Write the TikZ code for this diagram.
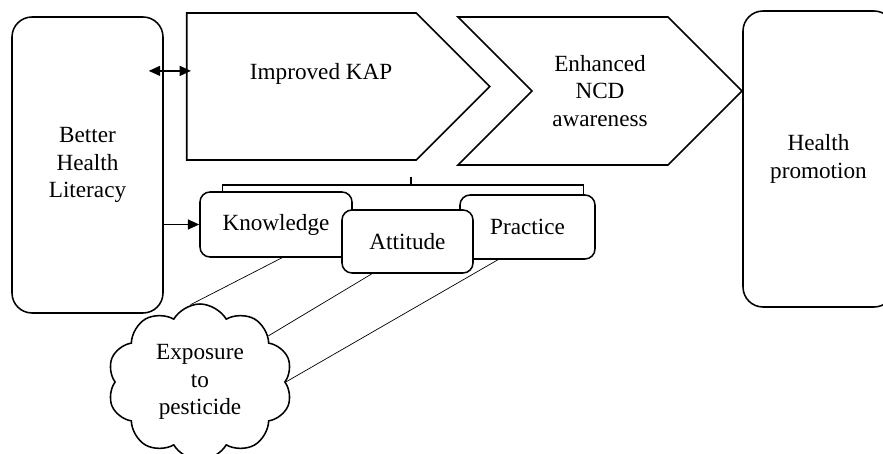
\documentclass[tikz,border=0pt]{standalone}
\usepackage{fontspec}
\setmainfont{Liberation Serif}
\usetikzlibrary{shapes.symbols,arrows.meta}

\begin{document}
\begin{tikzpicture}
    [box/.style={rectangle, draw, rounded corners=0.5cm, line width=1.1pt, minimum width=3.775cm, minimum height=7.4cm, align=center},
     kapbox/.style={rectangle, draw, rounded corners=0.25cm, line width=1.1pt, fill=white, minimum height=1.6cm},
     chevron/.style={signal, draw, line width=1.1pt, signal pointer angle=90, signal to=east, align=center},
     link/.style={line width=0.5pt},
     tip/.style={line width=1.1pt, arrows={-Triangle[length=8pt,width=7pt]}},
     font=\fontsize{16.5}{19.5}\selectfont]

    \useasboundingbox (0,0) rectangle (22.075,-11.35);

    % side boxes
    \node[box] (lit) at (2.1875,-4.125) {Better\\Health\\Literacy};
    \node[box] (hp) at (20.4625,-3.975) {Health\\promotion};

    % the two chevrons
    \node[chevron, signal from=nowhere, minimum width=7.575cm, minimum height=3.675cm,
          label={[xshift=0.49cm, yshift=0.31cm]center:Improved KAP}] (imp) at (7.5375,-2.1625) {};
    \node[chevron, signal from=west, minimum width=7.1cm, minimum height=3.7cm] (ncd) at (15,-2.275) {Enhanced\\NCD\\awareness};

    % K, A and P (attitude last so it sits on top)
    \node[kapbox, minimum width=3.8cm, minimum height=1.625cm] (k) at (6.9,-5.6125) {Knowledge};
    \node[kapbox, minimum width=3.375cm] (p) at (13.1875,-5.675) {Practice};
    \node[kapbox, minimum width=3.275cm, minimum height=1.575cm] (a) at (10.1875,-6.0375) {Attitude};

    % bracket over the three boxes
    \coordinate (br) at (10.275,-4.625);
    \draw[line width=0.9pt] ([xshift=0.575cm]k.north west) |- (br) -| ([xshift=-0.3cm]p.north east);
    \draw[line width=0.9pt] (br) -- ++(0,0.2);

    % arrows
    \draw[line width=1.1pt, arrows={Triangle[length=8pt,width=7pt]-Triangle[length=8pt,width=7pt]}]
        ([shift={(-0.375,0.39)}]lit.east |- imp.west) -- ([shift={(0.125,0.39)}]imp.west);
    \draw[tip] (lit.east |- k.west) -- (k.west);

    % exposure cloud
    \node[cloud, draw, line width=1.1pt, cloud puffs=10, cloud puff arc=120, fill=white,
          minimum width=4.625cm, minimum height=3.9cm, align=center] (pest) at (5,-9.55) {Exposure\\to\\pesticide};

    \draw[link] ([xshift=0.15cm]k.south) -- (pest.97);
    \draw[link] ([xshift=-0.89cm]a.south) -- (pest.34);
    \draw[link] ([xshift=-0.74cm]p.south) -- (pest.0);
\end{tikzpicture}
\end{document}
